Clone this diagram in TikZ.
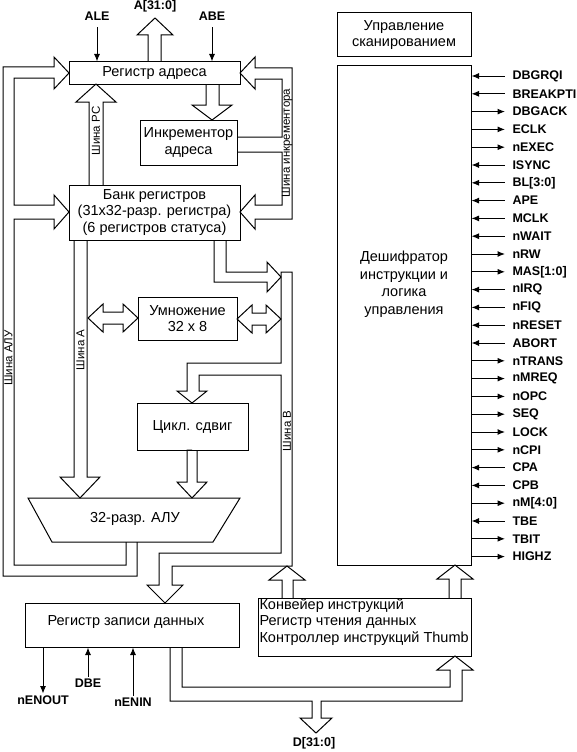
\documentclass[tikz,border=0pt]{standalone}
\usepackage{fontspec}
\setmainfont{Liberation Sans}
\usetikzlibrary{arrows.meta}
\tikzset{>={Latex[length=7.5pt,width=6pt]}}

\begin{document}
\begin{tikzpicture}[x=1pt, y=-1pt, line width=1pt,
    blk/.style={draw, black, inner sep=0pt, align=center, font=\fontsize{14.5}{16.5}\selectfont},
    blktxt/.style={inner sep=0pt, font=\fontsize{14.5}{16.5}\selectfont},
    sig/.style={inner sep=1.5pt, font=\bfseries\fontsize{12.5}{14}\selectfont},
    buslbl/.style={inner sep=0pt, rotate=90, font=\fontsize{11.5}{13}\selectfont}]

    \useasboundingbox (0,0) rectangle (577,752);

    \node[blk, minimum width=171pt, minimum height=22pt] (areg) at (154.5,73) {Регистр адреса};
    \node[blk, minimum width=97pt, minimum height=45pt] (inc) at (188.5,142.5) {Инкрементор\\адреса};
    \node[blk, minimum width=171pt, minimum height=55pt] (bank) at (154.5,212.5) {Банк регистров\\(31x32-разр. регистра)\\(6 регистров статуса)};
    \node[blk, minimum width=99pt, minimum height=43pt] (mul) at (187.5,318.5) {Умножение\\32 x 8};
    \node[blk, minimum width=111pt, minimum height=47pt] (shift) at (192.5,426.5) {Цикл. сдвиг};
    \node[blk, minimum width=214pt, minimum height=44pt] (wreg) at (132,625) {};
    \node[blktxt] (wregtxt) at (126,622) {Регистр записи данных};
    \node[blk, minimum width=213pt, minimum height=58pt] (pipe) at (364.5,627) {};
    \node[blktxt, anchor=west, align=left] (pipetxt) at (259,622) {Конвейер инструкций\\Регистр чтения данных\\Контроллер инструкций Thumb};
    \node[blk, minimum width=134pt, minimum height=44pt] (scan) at (404,35) {Управление\\сканированием};
    \node[blk, minimum width=134pt, minimum height=499pt] (dec) at (404,315.5) {};
    \node[blktxt, align=center, font=\fontsize{14.5}{17.5}\selectfont] (dectxt) at (404,284) {Дешифратор\\инструкции и\\логика\\управления};

    \draw (28,498) -- (240,498) -- (213,542) -- (52,542) -- cycle;
    \node[blktxt] (alu) at (135,519) {32-разр. АЛУ};

    % address bus
    \node[sig] (abus) at (155,6) {A[31:0]};
    \draw (148,62) -- (148,35) -- (137,35) -- (155,18) -- (173,35) -- (161,35) -- (161,62);

    \node[sig] (ale) at (97,16) {ALE};
    \node[sig] (abe) at (212,16) {ABE};
    \draw[->] (ale.south) ++(0,5) -- (ale |- areg.north);
    \draw[->] (abe.south) ++(0,5) -- (abe |- areg.north);

    % ALU bus
    \draw (137,542) -- (137,576) -- (3,576) -- (3,67) -- (54,67) -- (54,57) -- (69,73) -- (54,89) -- (54,78) -- (14,78)
        -- (14,205) -- (54,205) -- (54,195) -- (69,212) -- (54,229) -- (54,219) -- (14,219) -- (14,565) -- (126,565) -- (126,542);
    \node[buslbl] (alubus) at (8.5,358) {Шина АЛУ};

    % incrementer bus
    \draw (237,137) -- (282,137) -- (282,79) -- (255,79) -- (255,89) -- (240,73) -- (255,57) -- (255,68) -- (292,68)
        -- (292,219) -- (255,219) -- (255,229) -- (240,212) -- (255,195) -- (255,205) -- (282,205) -- (282,152) -- (237,152);
    \node[buslbl] (incbus) at (287,143) {Шина инкрементора};

    \draw (206,84) -- (206,105) -- (192,105) -- (212,120) -- (232,105) -- (219,105) -- (219,84);

    % PC bus
    \draw (89,185) -- (89,102) -- (76,102) -- (96,84) -- (116,102) -- (103,102) -- (103,185);
    \node[buslbl] (pcbus) at (96,131) {Шина PC};

    % A bus
    \draw (74,240) -- (74,477) -- (60,477) -- (80,498) -- (100,477) -- (87,477) -- (87,240);
    \node[buslbl] (abusl) at (80.5,350) {Шина A};

    \draw (88,318) -- (103,304) -- (103,312) -- (123,312) -- (123,304) -- (138,318) -- (123,332) -- (123,324) -- (103,324) -- (103,332) -- cycle;
    \draw (237,319) -- (252,305) -- (252,313) -- (266,313) -- (266,305) -- (281,319) -- (266,333) -- (266,325) -- (252,325) -- (252,333) -- cycle;

    % B bus
    \draw (214,240) -- (214,282) -- (267,282) -- (267,292) -- (281,277) -- (267,262) -- (267,272) -- (226,272) -- (226,240);
    \draw (281,363) -- (281,272) -- (292,272) -- (292,566) -- (172,566) -- (172,585) -- (183,585) -- (165,603) -- (147,585)
        -- (159,585) -- (159,553) -- (281,553) -- (281,375) -- (199,375) -- (199,391) -- (207,391) -- (192,403) -- (177,391)
        -- (187,391) -- (187,363) -- cycle;
    \node[buslbl] (bbus) at (287,431) {Шина B};

    \draw (192,450) -- (187,450) -- (187,482) -- (177,482) -- (192,498) -- (207,482) -- (197,482) -- (197,450);

    \draw (282,598) -- (282,580) -- (269,580) -- (287,566) -- (305,580) -- (293,580) -- (293,598);
    \draw (449,598) -- (449,579) -- (437,579) -- (455,565) -- (473,579) -- (461,579) -- (461,598);

    % data bus
    \draw (182,647) -- (182,687) -- (450,687) -- (450,670) -- (437,670) -- (455,656) -- (473,670) -- (462,670) -- (462,701)
        -- (321,701) -- (321,718) -- (332,718) -- (316,733) -- (300,718) -- (312,718) -- (312,701) -- (170,701) -- (170,647);
    \node[sig] (dbus) at (314,743) {D[31:0]};

    \node[sig] (nenout) at (43,700) {nENOUT};
    \node[sig] (dbe) at (88,683) {DBE};
    \node[sig] (nenin) at (133,702) {nENIN};
    \draw[->] (wreg.south -| nenout) -- (nenout.north);
    \draw[->] (dbe.north) -- (dbe |- wreg.south);
    \draw[->] (nenin.north) -- (nenin |- wreg.south);

    % control signals
    \foreach \name/\dir [count=\i from 0] in {DBGRQI/<-, BREAKPTI/<-, DBGACK/->, ECLK/->, nEXEC/->, ISYNC/<-, BL[3:0]/<-,
        APE/<-, MCLK/<-, nWAIT/<-, nRW/->, MAS[1:0]/->, nIRQ/<-, nFIQ/<-, nRESET/<-, ABORT/<-, nTRANS/->, nMREQ/->,
        nOPC/->, SEQ/->, LOCK/->, nCPI/->, CPA/<-, CPB/<-, nM[4:0]/->, TBE/<-, TBIT/->, HIGHZ/->}
    {
        \node[sig, anchor=west, inner xsep=7pt] (s\i) at (505,76+17.8*\i) {\name};
        \draw[\dir] (dec.east |- s\i.west) -- (s\i.west);
    }

\end{tikzpicture}
\end{document}
